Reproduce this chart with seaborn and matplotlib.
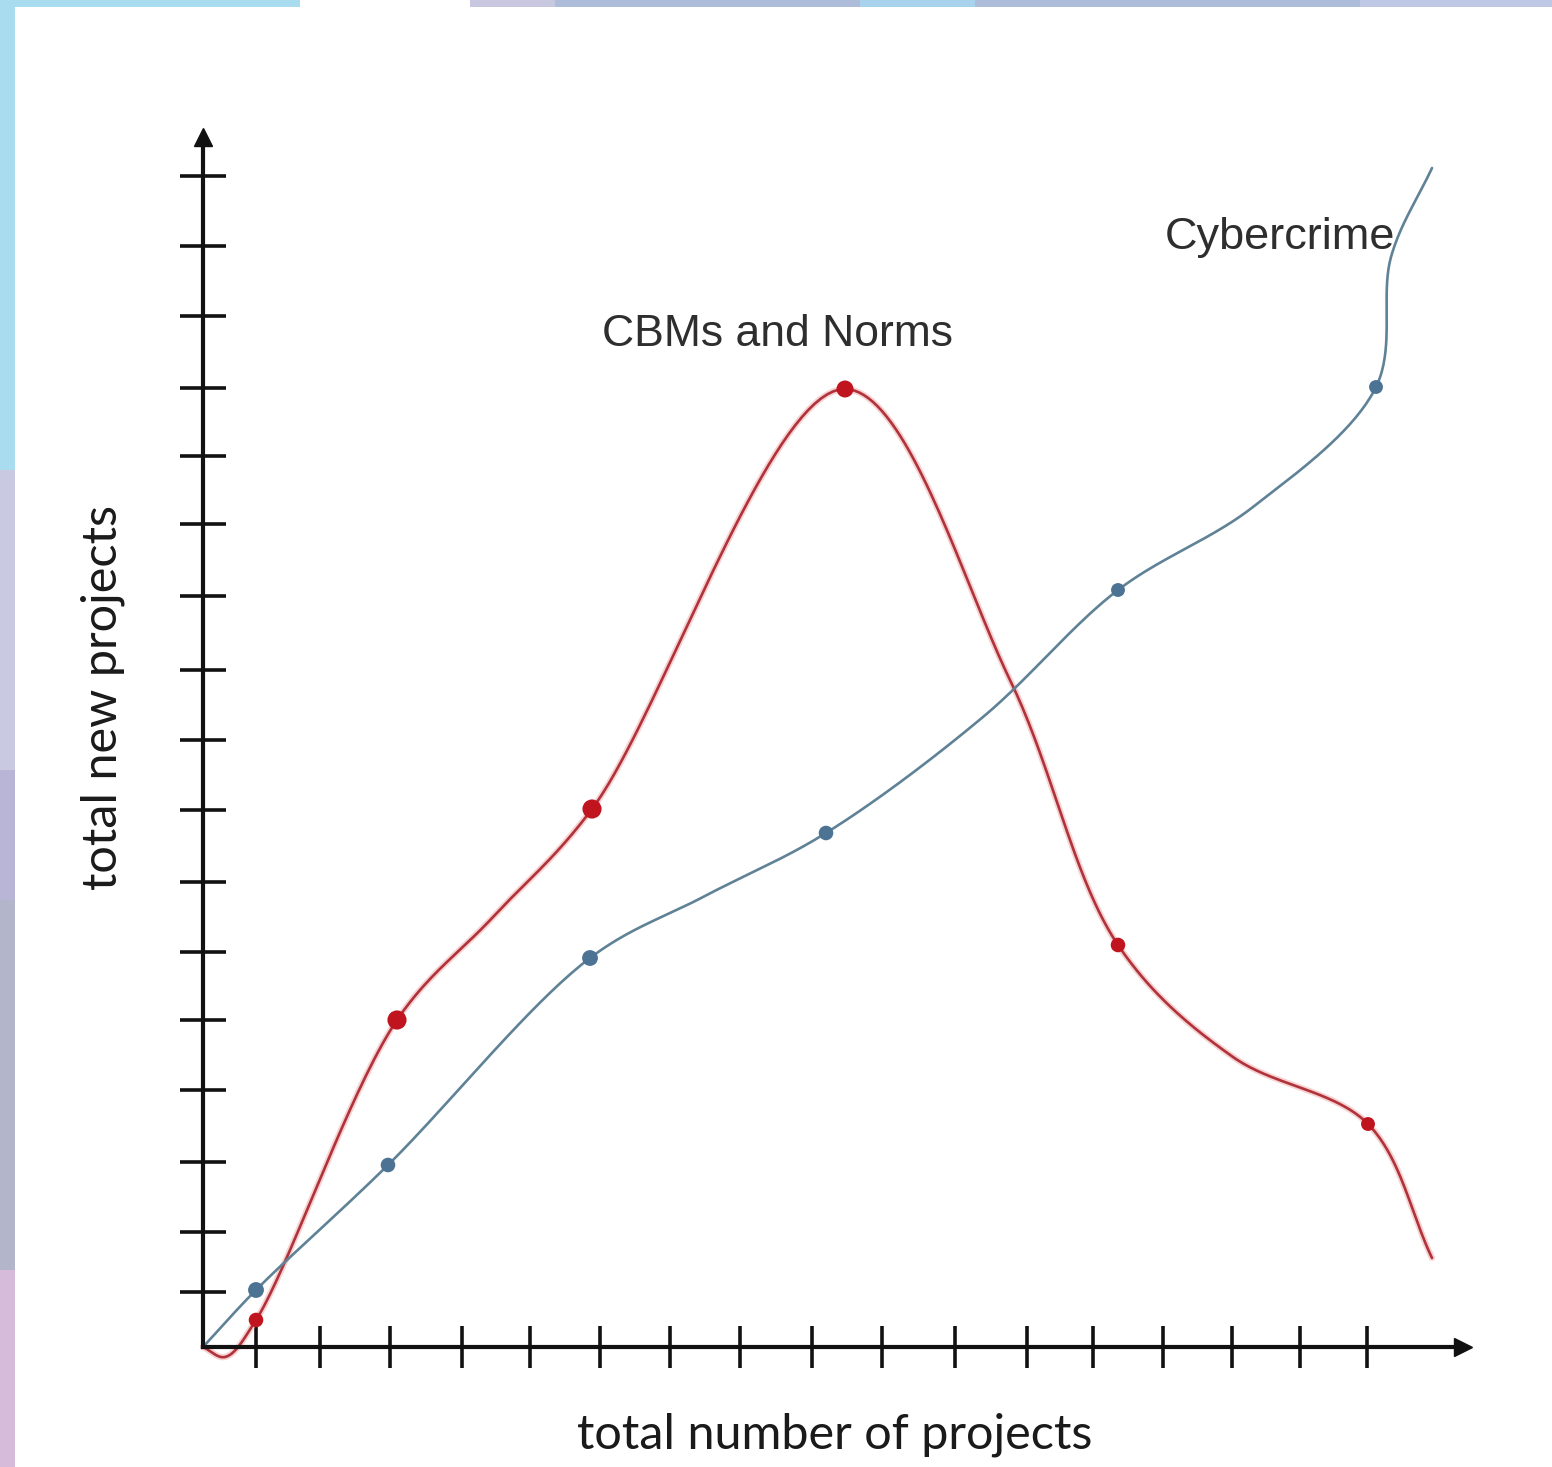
"""
Sketch chart: new projects vs total projects for two topics
(CBMs and Norms vs Cybercrime), hand-drawn style axes with arrows.
"""

import numpy as np
import pandas as pd
import matplotlib
matplotlib.use('Agg')
import matplotlib.pyplot as plt
import seaborn as sns
from matplotlib.patches import Rectangle

# tick positions along each axis (arbitrary units, origin at 0)
x_ticks = [53, 117, 187, 259, 327, 397, 467, 537, 609, 679, 752, 824, 890, 960, 1029, 1097, 1164]
y_ticks = [55, 115, 185, 257, 327, 395, 465, 537, 607, 677, 751, 823, 891, 959, 1031, 1101, 1171]

# CBMs and Norms (red): marked points and the curve through them
cbm_pts_x = [53, 194, 389, 642, 915, 1165]
cbm_pts_y = [27, 327, 538, 958, 402, 223]
cbm_curve_x = [0, 22, 53, 194, 290, 389, 642, 807, 915, 1030, 1165, 1229]
cbm_curve_y = [0, -10, 27, 327, 430, 538, 958, 667, 402, 290, 223, 89]

# Cybercrime (blue)
cyb_pts_x = [53, 185, 387, 623, 915, 1173]
cyb_pts_y = [57, 182, 389, 514, 757, 960]
cyb_curve_x = [0, 53, 185, 387, 500, 623, 780, 915, 1050, 1173, 1188, 1229]
cyb_curve_y = [0, 57, 182, 389, 450, 514, 630, 757, 840, 960, 1090, 1179]

RED_LINE = '#b0323a'
RED_PT = '#c0141e'
BLUE_LINE = '#5f8296'
BLUE_PT = '#4c7394'


def smooth(xs, ys, n=40):
    """centripetal Catmull-Rom curve through the knots"""
    p = np.column_stack([xs, ys]).astype(float)
    p = np.vstack([2 * p[0] - p[1], p, 2 * p[-1] - p[-2]])
    out = []
    for i in range(1, len(p) - 2):
        p0, p1, p2, p3 = p[i - 1], p[i], p[i + 1], p[i + 2]
        t0 = 0.0
        t1 = t0 + np.linalg.norm(p1 - p0) ** 0.5
        t2 = t1 + np.linalg.norm(p2 - p1) ** 0.5
        t3 = t2 + np.linalg.norm(p3 - p2) ** 0.5
        t = np.linspace(t1, t2, n)[:, None]
        a1 = (t1 - t) / (t1 - t0) * p0 + (t - t0) / (t1 - t0) * p1
        a2 = (t2 - t) / (t2 - t1) * p1 + (t - t1) / (t2 - t1) * p2
        a3 = (t3 - t) / (t3 - t2) * p2 + (t - t2) / (t3 - t2) * p3
        b1 = (t2 - t) / (t2 - t0) * a1 + (t - t0) / (t2 - t0) * a2
        b2 = (t3 - t) / (t3 - t1) * a2 + (t - t1) / (t3 - t1) * a3
        c = (t2 - t) / (t2 - t1) * b1 + (t - t1) / (t2 - t1) * b2
        out.append(c if i == 1 else c[1:])
    out = np.vstack(out)
    return out[:, 0], out[:, 1]


sns.set_theme(style='white')
plt.rcParams['font.family'] = ['Liberation Sans', 'DejaVu Sans']

W, H = 1552, 1467
fig = plt.figure(figsize=(W / 100, H / 100), dpi=100)
fig.patch.set_facecolor('white')

# screenshot frame strips
for y0, y1, col in [(0, 470, '#a9dcef'), (470, 770, '#c9c9e2'), (770, 900, '#b9b5d6'),
                    (900, 1270, '#b3b6ca'), (1270, 1467, '#d6bcda')]:
    fig.add_artist(Rectangle((0, 1 - y1 / H), 15 / W, (y1 - y0) / H,
                             transform=fig.transFigure, color=col, lw=0))
for x0, x1, col in [(0, 300, '#a9dcef'), (470, 555, '#c7c7df'), (555, 860, '#adbcd9'),
                    (860, 975, '#a9d3ec'), (975, 1360, '#adbcd9'), (1360, 1552, '#bfc9e6')]:
    fig.add_artist(Rectangle((x0 / W, 1 - 7 / H), (x1 - x0) / W, 7 / H,
                             transform=fig.transFigure, color=col, lw=0))

ax = fig.add_axes([0, 0, 1, 1])
ax.set_facecolor('none')
ax.set_xlim(-203, W - 203)
ax.set_ylim(-(H - 1347), 1347)

# curves
sx, sy = smooth(cbm_curve_x, cbm_curve_y)
ax.plot(sx, sy, color='#f2b4b4', lw=4.5, alpha=0.6, solid_capstyle='round')
sns.lineplot(x=sx, y=sy, sort=False, estimator=None, color=RED_LINE, lw=1.9, ax=ax)
sns.scatterplot(x=cbm_pts_x, y=cbm_pts_y, color=RED_PT, s=[110, 190, 190, 150, 110, 100],
                edgecolor='none', ax=ax, zorder=5, legend=False)

bx, by = smooth(cyb_curve_x, cyb_curve_y)
sns.lineplot(x=bx, y=by, sort=False, estimator=None, color=BLUE_LINE, lw=1.9, ax=ax)
sns.scatterplot(x=cyb_pts_x, y=cyb_pts_y, color=BLUE_PT, s=[130, 110, 130, 110, 100, 100],
                edgecolor='none', ax=ax, zorder=5, legend=False)

# axes through the origin with arrows
for side in ['top', 'right']:
    ax.spines[side].set_visible(False)
ax.spines['left'].set_position(('data', 0))
ax.spines['bottom'].set_position(('data', 0))
ax.spines['left'].set_bounds(0, 1205)
ax.spines['bottom'].set_bounds(0, 1255)
for side in ['left', 'bottom']:
    ax.spines[side].set_linewidth(3)
    ax.spines[side].set_color('#111111')
ax.plot(0, 1210, marker='^', ms=13, color='#111111', clip_on=False)
ax.plot(1260, 0, marker='>', ms=13, color='#111111', clip_on=False)

ax.set_xticks(x_ticks)
ax.set_yticks(y_ticks)
ax.tick_params(axis='x', direction='inout', length=30, width=2.6, color='#111111',
               labelbottom=False, bottom=True)
ax.tick_params(axis='y', direction='inout', length=33, width=2.6, color='#111111',
               labelleft=False, left=True)
ax.grid(False)

# curve labels
ax.text(574, 1012, 'CBMs and Norms', ha='center', va='center', fontsize=32, color='#2e2e2e')
ax.text(1077, 1110, 'Cybercrime', ha='center', va='center', fontsize=32.5, color='#2e2e2e')

# axis titles
fig.text(835 / W, 1 - 1435 / H, 'total number of projects', ha='center', va='center',
         fontsize=35, family=['Lato', 'DejaVu Sans'], color='#1a1a1a')
fig.text(103 / W, 1 - 697 / H, 'total new projects', ha='center', va='center', rotation=90,
         fontsize=35, family=['Lato', 'DejaVu Sans'], color='#1a1a1a')

plt.savefig('out.png', dpi=100)
